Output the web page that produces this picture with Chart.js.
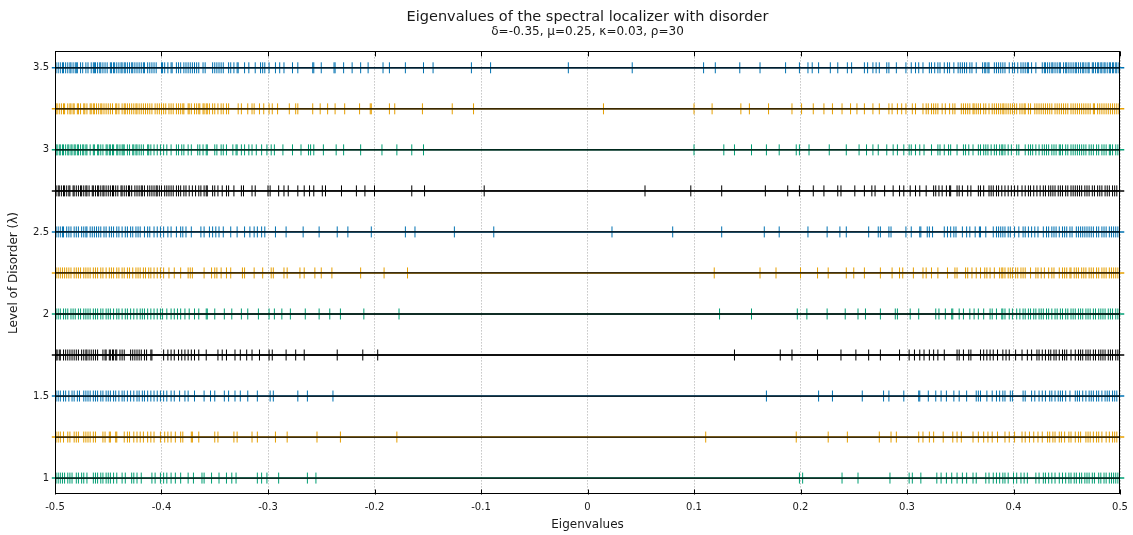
<!DOCTYPE html>
<html lang="en">
<head>
    <meta charset="UTF-8">
    <title>Eigenvalues of the spectral localizer with disorder</title>
    <script src="https://cdn.jsdelivr.net/npm/chart.js"></script>
    <style>
        body {
            margin: 0;
            padding: 0;
            background-color: white;
        }
        .chart-container {
            position: relative;
            width: 1133px;
            height: 535px;
        }
    </style>
</head>
<body>
    <div class="chart-container">
        <canvas id="eigenChart"></canvas>
    </div>

    <script>
        // disorder levels (lambda), bottom to top
        const levels = [1, 1.25, 1.5, 1.75, 2, 2.25, 2.5, 2.75, 3, 3.25, 3.5];
        const levelColors = ['#009e73', '#e69f00', '#0072b2', '#000000',
                             '#009e73', '#e69f00', '#0072b2', '#000000',
                             '#009e73', '#e69f00', '#0072b2'];

        const xTicks = [-0.5, -0.4, -0.3, -0.2, -0.1, 0, 0.1, 0.2, 0.3, 0.4, 0.5];
        const yTicks = [1, 1.5, 2, 2.5, 3, 3.5];
        const xMin = -0.5, xMax = 0.5;

        // eigenvalues, one list per disorder level
        const lam100 = [-0.499,-0.497,-0.495,-0.493,-0.491,-0.488,-0.486,-0.484,-0.480,-0.478,-0.475,-0.473,-0.470,-0.464,-0.462,-0.460,-0.457,-0.455,-0.452,-0.450,-0.448,-0.445,-0.442,-0.437,-0.434,-0.428,-0.426,-0.423,-0.419,-0.409,-0.406,-0.401,-0.398,-0.395,-0.391,-0.387,
            -0.382,-0.375,-0.370,-0.362,-0.360,-0.353,-0.346,-0.339,-0.334,-0.330,-0.310,-0.306,-0.301,-0.290,-0.263,-0.255,
            0.199,0.202,0.239,0.254,
            0.284,0.302,0.305,0.313,0.328,0.332,0.337,0.342,0.347,0.352,0.356,0.362,0.365,0.374,0.377,0.381,0.384,0.387,0.390,
            0.392,0.395,0.400,0.403,0.407,0.410,0.413,0.421,0.424,0.428,0.430,0.433,0.436,0.439,0.443,0.446,0.449,0.452,0.454,0.457,0.459,0.462,0.464,0.467,0.469,0.471,0.474,0.476,0.480,0.482,0.485,0.487,0.490,0.492,0.494,0.496,0.498];

        const lam125 = [-0.499,-0.497,-0.495,-0.492,-0.488,-0.486,-0.482,-0.480,-0.478,-0.473,-0.471,-0.469,-0.467,-0.464,-0.462,-0.455,-0.453,-0.449,-0.448,-0.443,-0.442,-0.435,-0.432,-0.430,-0.426,-0.423,-0.420,-0.417,-0.413,-0.410,-0.407,-0.401,-0.397,-0.394,-0.391,-0.387,
            -0.382,-0.380,-0.372,-0.371,-0.365,-0.350,-0.347,-0.332,-0.329,-0.315,-0.310,-0.293,-0.282,
            -0.254,-0.232,-0.179,0.111,
            0.196,0.226,0.244,0.274,
            0.285,0.290,0.311,0.315,0.321,0.325,0.334,0.343,0.347,0.351,0.362,0.367,0.372,0.376,0.380,0.385,
            0.392,0.396,0.401,0.408,0.411,0.415,0.419,0.423,0.427,0.432,0.434,0.437,0.439,0.443,0.445,0.448,0.452,0.454,0.458,0.461,0.463,0.468,0.470,0.472,0.475,0.478,0.480,0.483,0.487,0.490,0.493,0.495,0.497];

        const lam150 = [-0.499,-0.497,-0.495,-0.492,-0.490,-0.487,-0.484,-0.482,-0.479,-0.477,-0.473,-0.471,-0.469,-0.467,-0.464,-0.462,-0.460,-0.457,-0.455,-0.452,-0.450,-0.448,-0.445,-0.443,-0.440,-0.437,-0.435,-0.432,-0.429,-0.426,-0.423,-0.421,-0.418,-0.416,-0.413,-0.410,-0.407,-0.404,-0.401,-0.398,-0.395,-0.391,-0.388,
            -0.383,-0.378,-0.375,-0.369,-0.360,-0.354,-0.350,-0.341,-0.337,-0.331,-0.326,-0.319,-0.310,-0.298,-0.295,-0.272,
            -0.263,-0.239,0.168,
            0.217,0.230,0.258,
            0.278,0.283,0.297,0.311,0.312,0.320,0.327,0.332,0.337,0.344,0.349,0.356,0.365,0.367,0.369,0.375,0.380,0.384,0.387,
            0.390,0.392,0.397,0.399,0.409,0.411,0.417,0.420,0.424,0.427,0.430,0.434,0.436,0.439,0.442,0.444,0.446,0.449,0.453,0.458,0.460,0.462,0.465,0.468,0.471,0.473,0.475,0.478,0.480,0.483,0.486,0.488,0.490,0.493,0.495,0.497];

        const lam175 = [-0.499,-0.498,-0.496,-0.495,-0.492,-0.490,-0.488,-0.486,-0.484,-0.482,-0.480,-0.478,-0.475,-0.473,-0.471,-0.470,-0.468,-0.466,-0.464,-0.462,-0.460,-0.455,-0.453,-0.452,-0.449,-0.448,-0.446,-0.445,-0.443,-0.442,-0.439,-0.437,-0.435,-0.429,-0.427,-0.425,-0.423,-0.421,-0.419,-0.416,-0.414,-0.410,-0.409,-0.398,-0.394,-0.391,-0.388,
            -0.384,-0.381,-0.378,-0.375,-0.372,-0.369,-0.365,-0.358,-0.347,-0.343,-0.339,-0.331,-0.326,-0.320,-0.315,-0.308,-0.299,-0.296,-0.283,-0.274,
            -0.266,-0.235,-0.211,-0.197,0.138,
            0.181,0.192,0.216,0.238,0.252,0.264,0.275,
            0.293,0.302,0.307,0.312,0.316,0.321,0.325,0.329,0.335,0.347,0.349,0.353,0.358,0.360,0.369,0.372,0.375,0.378,0.381,0.385,
            0.390,0.393,0.396,0.402,0.408,0.413,0.417,0.422,0.424,0.427,0.430,0.433,0.435,0.438,0.440,0.443,0.446,0.448,0.450,0.454,0.458,0.461,0.463,0.465,0.468,0.470,0.472,0.475,0.477,0.480,0.482,0.484,0.486,0.489,0.491,0.493,0.496,0.498];

        const lam200 = [-0.499,-0.497,-0.495,-0.492,-0.490,-0.488,-0.485,-0.483,-0.481,-0.478,-0.476,-0.473,-0.471,-0.469,-0.467,-0.464,-0.462,-0.460,-0.457,-0.455,-0.452,-0.450,-0.448,-0.445,-0.442,-0.440,-0.437,-0.434,-0.432,-0.429,-0.426,-0.423,-0.420,-0.418,-0.416,-0.413,-0.410,-0.407,-0.404,-0.401,-0.399,-0.395,-0.391,-0.388,-0.385,
            -0.382,-0.378,-0.374,-0.369,-0.365,-0.358,-0.357,-0.350,-0.341,-0.334,-0.325,-0.319,-0.309,-0.299,-0.294,-0.287,-0.279,
            -0.265,-0.252,-0.242,-0.232,-0.210,-0.177,0.124,0.154,
            0.197,0.206,0.225,0.242,0.254,0.261,0.275,
            0.289,0.291,0.303,0.311,0.327,0.330,0.336,0.342,0.343,0.349,0.353,0.359,0.363,0.367,0.372,0.378,0.380,0.384,0.389,
            0.390,0.392,0.396,0.399,0.403,0.406,0.409,0.411,0.414,0.416,0.419,0.421,0.424,0.426,0.428,0.431,0.433,0.436,0.439,0.441,0.444,0.446,0.449,0.451,0.454,0.456,0.458,0.461,0.463,0.465,0.468,0.470,0.472,0.475,0.477,0.480,0.482,0.484,0.486,0.489,0.491,0.493,0.496,0.498];

        const lam225 = [-0.499,-0.497,-0.495,-0.493,-0.491,-0.489,-0.487,-0.485,-0.482,-0.480,-0.478,-0.476,-0.473,-0.471,-0.469,-0.467,-0.464,-0.462,-0.460,-0.457,-0.455,-0.452,-0.449,-0.447,-0.445,-0.442,-0.440,-0.437,-0.435,-0.432,-0.430,-0.427,-0.424,-0.422,-0.420,-0.417,-0.415,-0.412,-0.410,-0.407,-0.404,-0.401,-0.398,-0.393,-0.388,
            -0.382,-0.375,-0.373,-0.371,-0.360,-0.353,-0.350,-0.348,-0.344,-0.339,-0.335,-0.324,-0.322,-0.313,-0.305,-0.297,-0.295,-0.285,-0.282,
            -0.270,-0.266,-0.256,-0.250,-0.240,-0.213,-0.191,-0.169,0.119,0.162,0.177,
            0.200,0.216,0.226,0.243,0.250,0.260,0.275,
            0.286,0.293,0.296,0.306,0.315,0.318,0.323,0.329,0.338,0.345,0.347,0.355,0.357,0.361,0.365,0.369,0.373,0.375,0.378,0.382,0.387,0.389,
            0.390,0.392,0.395,0.397,0.399,0.402,0.404,0.407,0.409,0.411,0.416,0.421,0.423,0.426,0.429,0.433,0.436,0.438,0.443,0.446,0.448,0.450,0.453,0.454,0.457,0.459,0.461,0.464,0.466,0.468,0.471,0.473,0.475,0.478,0.480,0.483,0.485,0.487,0.490,0.492,0.494,0.496,0.498];

        const lam250 = [-0.499,-0.497,-0.495,-0.493,-0.492,-0.489,-0.487,-0.485,-0.482,-0.480,-0.478,-0.475,-0.473,-0.471,-0.470,-0.467,-0.465,-0.463,-0.461,-0.459,-0.457,-0.454,-0.452,-0.449,-0.447,-0.445,-0.442,-0.440,-0.437,-0.434,-0.432,-0.429,-0.427,-0.424,-0.422,-0.420,-0.416,-0.413,-0.411,-0.407,-0.404,-0.401,-0.398,-0.394,-0.391,-0.386,
            -0.382,-0.380,-0.377,-0.372,-0.363,-0.360,-0.355,-0.352,-0.349,-0.346,-0.342,-0.335,-0.329,-0.322,-0.317,-0.313,-0.310,-0.306,-0.303,-0.293,-0.283,
            -0.267,-0.252,-0.235,-0.225,-0.203,-0.171,-0.162,-0.125,-0.088,0.023,0.080,0.126,0.166,0.180,
            0.207,0.225,0.237,0.243,0.264,0.273,0.275,
            0.283,0.285,0.299,0.304,0.312,0.313,0.319,0.321,0.324,0.335,0.338,0.341,0.344,0.346,0.352,0.356,0.359,0.364,0.368,0.369,0.374,0.381,0.384,0.386,
            0.388,0.390,0.392,0.395,0.397,0.401,0.405,0.409,0.411,0.414,0.417,0.420,0.423,0.428,0.431,0.433,0.436,0.438,0.440,0.443,0.446,0.448,0.450,0.453,0.455,0.459,0.461,0.463,0.465,0.467,0.469,0.471,0.473,0.475,0.478,0.480,0.483,0.485,0.487,0.490,0.492,0.494,0.496,0.498];

        const lam275 = [-0.499,-0.497,-0.496,-0.494,-0.492,-0.491,-0.489,-0.487,-0.486,-0.483,-0.482,-0.480,-0.478,-0.476,-0.475,-0.473,-0.471,-0.470,-0.468,-0.465,-0.464,-0.462,-0.460,-0.459,-0.457,-0.455,-0.454,-0.452,-0.450,-0.448,-0.446,-0.445,-0.443,-0.441,-0.438,-0.437,-0.435,-0.433,-0.431,-0.430,-0.428,-0.425,-0.423,-0.421,-0.419,-0.418,-0.416,-0.413,-0.411,-0.409,-0.407,-0.405,-0.404,-0.402,-0.400,-0.397,-0.395,-0.393,-0.391,-0.389,
            -0.386,-0.384,-0.382,-0.379,-0.377,-0.374,-0.371,-0.368,-0.365,-0.363,-0.360,-0.358,-0.357,-0.352,-0.350,-0.347,-0.343,-0.339,-0.337,-0.332,-0.325,-0.323,-0.315,-0.312,-0.300,-0.298,-0.290,-0.285,-0.281,-0.272,
            -0.266,-0.261,-0.257,-0.249,-0.246,-0.231,-0.217,-0.209,-0.200,-0.165,-0.153,-0.097,0.054,0.097,0.126,0.167,
            0.188,0.199,0.212,0.222,0.235,0.238,0.251,0.260,0.267,0.270,
            0.279,0.287,0.293,0.297,0.303,0.308,0.312,0.318,0.325,0.327,0.330,0.333,0.337,0.340,0.341,0.347,0.349,0.352,0.357,0.360,0.367,0.369,0.372,0.377,0.379,0.381,0.384,0.386,
            0.389,0.392,0.395,0.398,0.401,0.404,0.408,0.411,0.414,0.416,0.419,0.422,0.425,0.428,0.430,0.433,0.435,0.437,0.439,0.442,0.444,0.446,0.449,0.451,0.454,0.456,0.458,0.460,0.462,0.464,0.467,0.469,0.471,0.474,0.476,0.479,0.481,0.483,0.486,0.488,0.490,0.493,0.495,0.497];

        const lam300 = [-0.499,-0.498,-0.496,-0.495,-0.493,-0.492,-0.490,-0.488,-0.487,-0.485,-0.484,-0.482,-0.481,-0.479,-0.478,-0.476,-0.474,-0.473,-0.471,-0.470,-0.467,-0.464,-0.463,-0.460,-0.459,-0.457,-0.455,-0.452,-0.451,-0.449,-0.448,-0.446,-0.445,-0.442,-0.441,-0.439,-0.437,-0.436,-0.435,-0.432,-0.430,-0.427,-0.426,-0.424,-0.423,-0.421,-0.419,-0.417,-0.413,-0.412,-0.410,-0.407,-0.404,-0.401,-0.398,-0.395,-0.391,
            -0.386,-0.384,-0.381,-0.379,-0.375,-0.372,-0.366,-0.364,-0.361,-0.358,-0.357,-0.350,-0.348,-0.344,-0.342,-0.339,-0.333,-0.330,-0.329,-0.325,-0.322,-0.318,-0.315,-0.311,-0.306,-0.301,-0.297,-0.294,-0.286,-0.277,
            -0.269,-0.262,-0.260,-0.257,-0.248,-0.236,-0.229,-0.213,-0.193,-0.179,-0.165,-0.154,0.100,0.128,0.138,0.154,0.168,0.180,
            0.196,0.199,0.208,0.227,0.243,0.255,0.262,0.268,0.273,
            0.281,0.287,0.291,0.297,0.302,0.304,0.308,0.312,0.316,0.323,0.329,0.331,0.335,0.339,0.341,0.347,0.353,0.355,0.358,0.362,0.367,0.369,0.372,0.374,0.376,0.379,0.382,0.384,0.387,0.389,
            0.390,0.392,0.395,0.398,0.403,0.405,0.411,0.414,0.416,0.418,0.421,0.424,0.427,0.429,0.431,0.433,0.436,0.438,0.440,0.443,0.444,0.446,0.449,0.451,0.454,0.456,0.458,0.460,0.462,0.464,0.466,0.468,0.471,0.473,0.475,0.478,0.480,0.483,0.485,0.487,0.490,0.491,0.493,0.496,0.498];

        const lam325 = [-0.499,-0.498,-0.496,-0.494,-0.492,-0.491,-0.488,-0.486,-0.485,-0.483,-0.482,-0.479,-0.478,-0.476,-0.473,-0.472,-0.470,-0.467,-0.466,-0.464,-0.463,-0.461,-0.459,-0.457,-0.456,-0.454,-0.452,-0.450,-0.448,-0.446,-0.443,-0.442,-0.440,-0.437,-0.435,-0.434,-0.432,-0.430,-0.428,-0.426,-0.424,-0.423,-0.421,-0.419,-0.417,-0.415,-0.413,-0.411,-0.409,-0.406,-0.404,-0.402,-0.400,-0.398,-0.396,-0.393,-0.391,-0.389,
            -0.386,-0.384,-0.382,-0.380,-0.379,-0.375,-0.374,-0.372,-0.369,-0.367,-0.365,-0.364,-0.361,-0.360,-0.358,-0.357,-0.355,-0.352,-0.350,-0.347,-0.344,-0.342,-0.339,-0.337,-0.328,-0.325,-0.319,-0.315,-0.313,-0.308,-0.304,-0.299,-0.296,-0.291,-0.280,-0.274,
            -0.272,-0.258,-0.251,-0.244,-0.237,-0.228,-0.214,-0.204,-0.203,-0.186,-0.181,-0.155,-0.127,-0.107,0.015,0.100,0.117,0.144,0.152,0.170,
            0.192,0.201,0.212,0.222,0.230,0.239,0.247,0.253,0.260,0.268,0.274,
            0.283,0.286,0.291,0.295,0.299,0.305,0.308,0.315,0.318,0.320,0.323,0.325,0.327,0.329,0.333,0.336,0.340,0.343,0.345,0.351,0.353,0.355,0.357,0.359,0.362,0.363,0.365,0.367,0.369,0.372,0.374,0.377,0.380,0.382,0.384,0.386,0.388,0.390,
            0.391,0.393,0.395,0.397,0.399,0.401,0.403,0.406,0.408,0.410,0.411,0.414,0.416,0.420,0.422,0.424,0.426,0.428,0.430,0.432,0.434,0.436,0.439,0.441,0.443,0.445,0.447,0.449,0.451,0.454,0.456,0.458,0.460,0.462,0.464,0.466,0.468,0.470,0.472,0.475,0.476,0.479,0.481,0.483,0.485,0.487,0.489,0.491,0.493,0.495,0.497,0.499];

        const lam350 = [-0.499,-0.497,-0.495,-0.493,-0.492,-0.490,-0.488,-0.486,-0.485,-0.483,-0.481,-0.480,-0.479,-0.476,-0.474,-0.471,-0.469,-0.466,-0.464,-0.463,-0.462,-0.460,-0.458,-0.457,-0.455,-0.453,-0.451,-0.448,-0.447,-0.445,-0.444,-0.442,-0.440,-0.438,-0.437,-0.435,-0.434,-0.432,-0.430,-0.428,-0.427,-0.425,-0.423,-0.421,-0.419,-0.417,-0.416,-0.413,-0.411,-0.409,-0.407,-0.405,-0.400,-0.399,-0.397,-0.394,-0.391,-0.390,
            -0.386,-0.384,-0.382,-0.379,-0.377,-0.375,-0.373,-0.371,-0.369,-0.367,-0.365,-0.361,-0.359,-0.352,-0.350,-0.348,-0.346,-0.344,-0.342,-0.337,-0.335,-0.332,-0.329,-0.328,-0.322,-0.318,-0.312,-0.307,-0.305,-0.303,-0.299,-0.293,-0.289,-0.285,-0.277,-0.272,
            -0.258,-0.257,-0.250,-0.238,-0.237,-0.229,-0.221,-0.213,-0.206,-0.192,-0.186,-0.171,-0.154,-0.145,-0.109,-0.091,-0.018,0.042,0.109,0.120,0.143,0.162,
            0.186,0.199,0.207,0.211,0.217,0.228,0.235,0.244,0.248,0.260,0.263,0.268,0.271,0.274,
            0.281,0.283,0.290,0.299,0.304,0.308,0.311,0.315,0.321,0.323,0.326,0.329,0.331,0.335,0.338,0.340,0.344,0.348,0.350,0.352,0.354,0.356,0.359,0.361,0.365,0.371,0.373,0.374,0.376,0.377,0.382,0.384,0.386,
            0.388,0.390,0.392,0.396,0.399,0.401,0.404,0.407,0.409,0.411,0.413,0.414,0.417,0.421,0.427,0.429,0.430,0.432,0.434,0.436,0.437,0.439,0.441,0.443,0.444,0.447,0.449,0.450,0.452,0.454,0.456,0.458,0.459,0.461,0.463,0.465,0.466,0.468,0.470,0.471,0.474,0.475,0.477,0.479,0.480,0.482,0.483,0.485,0.486,0.488,0.490,0.491,0.493,0.494,0.496,0.497,0.499];

        const eigenLists = [lam100, lam125, lam150, lam175, lam200, lam225, lam250, lam275, lam300, lam325, lam350];

        // box around the plot, with the short inward tick marks on top and bottom
        const framePlugin = {
            id: 'frame',
            afterDraw(chart) {
                const ctx = chart.ctx;
                const a = chart.chartArea;
                const x = chart.scales.x;
                ctx.save();
                ctx.strokeStyle = '#000';
                ctx.lineWidth = 1;
                ctx.strokeRect(Math.round(a.left) + 0.5, Math.round(a.top) + 0.5,
                               Math.round(a.width) - 1, Math.round(a.height) - 1);
                ctx.beginPath();
                x.ticks.forEach(t => {
                    const px = Math.round(x.getPixelForValue(t.value)) + 0.5;
                    ctx.moveTo(px, a.top);
                    ctx.lineTo(px, a.top + 5);
                    ctx.moveTo(px, a.bottom);
                    ctx.lineTo(px, a.bottom - 5);
                });
                ctx.stroke();
                ctx.restore();
            }
        };

        const datasets = [];
        levels.forEach((lvl, i) => {
            // coloured base line, a little wider than the frame
            datasets.push({
                type: 'line',
                data: [{x: xMin - 0.003, y: lvl}, {x: xMax + 0.004, y: lvl}],
                borderColor: levelColors[i],
                borderWidth: 1.5,
                pointRadius: 0,
                clip: false,
                order: 3
            });
            // one vertical tick per eigenvalue
            datasets.push({
                type: 'scatter',
                data: eigenLists[i].map(v => ({x: v, y: lvl})),
                pointStyle: 'line',
                pointRotation: 90,
                pointRadius: 5.5,
                pointBorderWidth: 1,
                pointBorderColor: levelColors[i],
                pointBackgroundColor: levelColors[i],
                order: 2
            });
            // black level line on top
            datasets.push({
                type: 'line',
                data: [{x: xMin, y: lvl}, {x: xMax, y: lvl}],
                borderColor: '#000000',
                borderWidth: 1.3,
                pointRadius: 0,
                order: 1
            });
        });

        Chart.defaults.font.family = '"DejaVu Sans", sans-serif';
        Chart.defaults.color = '#1a1a1a';

        new Chart(document.getElementById('eigenChart').getContext('2d'), {
            type: 'scatter',
            data: { datasets: datasets },
            options: {
                responsive: true,
                maintainAspectRatio: false,
                animation: false,
                layout: { padding: { left: 0, right: 13, top: 0, bottom: 0 } },
                plugins: {
                    legend: { display: false },
                    tooltip: { enabled: false },
                    title: {
                        display: true,
                        fullSize: false,
                        text: 'Eigenvalues of the spectral localizer with disorder',
                        font: { size: 14.5, weight: 'normal', lineHeight: 1 },
                        color: '#1a1a1a',
                        padding: { top: 10, bottom: 0 }
                    },
                    subtitle: {
                        display: true,
                        fullSize: false,
                        text: 'δ=-0.35, μ=0.25, κ=0.03, ρ=30',
                        font: { size: 12, weight: 'normal' },
                        color: '#1a1a1a',
                        padding: { top: 0, bottom: 12.5 }
                    }
                },
                scales: {
                    x: {
                        type: 'linear',
                        min: xMin,
                        max: xMax,
                        afterBuildTicks: s => { s.ticks = xTicks.map(v => ({ value: v })); },
                        afterFit: s => { s.height = 40.5; s.paddingLeft = 0; s.paddingRight = 0; },
                        ticks: {
                            font: { size: 10 },
                            padding: 7,
                            callback: v => String(v)
                        },
                        grid: {
                            color: '#a8a8a8',
                            lineWidth: 1,
                            drawTicks: false
                        },
                        border: { display: false, dash: [1, 2] },
                        title: {
                            display: true,
                            text: 'Eigenvalues',
                            font: { size: 12 },
                            padding: { top: 0, bottom: 3 }
                        }
                    },
                    y: {
                        type: 'linear',
                        min: 0.9,
                        max: 3.6,
                        afterBuildTicks: s => { s.ticks = yTicks.map(v => ({ value: v })); },
                        afterFit: s => { s.width = 55; },
                        ticks: {
                            font: { size: 10 },
                            padding: 6,
                            callback: v => String(v)
                        },
                        grid: { display: false, drawTicks: false },
                        border: { display: false },
                        title: {
                            display: true,
                            text: 'Level of Disorder (λ)',
                            font: { size: 12 },
                            padding: { top: 7, bottom: 0 }
                        }
                    }
                }
            },
            plugins: [framePlugin]
        });
    </script>
</body>
</html>
